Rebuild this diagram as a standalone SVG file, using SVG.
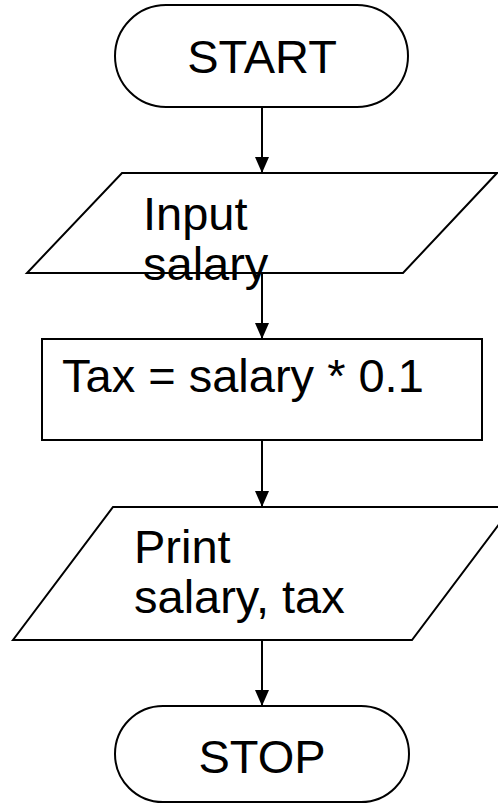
<svg xmlns="http://www.w3.org/2000/svg" width="498" height="804" viewBox="0 0 498 804">
<style>
.s{fill:#fff;stroke:#000;stroke-width:2}
.t{font-family:"Liberation Sans",Arial,sans-serif;font-size:47px;fill:#000}
.c{fill:none;stroke:#000;stroke-width:2}
</style>
<defs>
<marker id="a" markerWidth="16" markerHeight="14" viewBox="0 0 16 14" refX="16" refY="7" orient="auto" markerUnits="userSpaceOnUse">
<path d="M0,0 L16,7 L0,14 z" fill="#000"/>
</marker>
</defs>
<rect width="498" height="804" fill="#fff"/>
<g id="start">
<rect class="s" x="115" y="5" width="293" height="102" rx="51" ry="51"/>
<text class="t" x="262" y="73" text-anchor="middle">START</text>
</g>
<g id="input">
<polygon class="s" points="122,173 497,173 403,273 27,273"/>
<text class="t" x="143" y="230">Input</text>
<text class="t" x="143" y="280">salary</text>
</g>
<g id="calc">
<rect class="s" x="42" y="339" width="440" height="101"/>
<text class="t" x="62" y="392">Tax = salary * 0.1</text>
</g>
<g id="print">
<polygon class="s" points="113,507 512,507 412,640 13,640"/>
<text class="t" x="134" y="563">Print</text>
<text class="t" x="134" y="613">salary, tax</text>
</g>
<g id="stop">
<rect class="s" x="115" y="706" width="294" height="96" rx="48" ry="48"/>
<text class="t" x="262" y="773" text-anchor="middle">STOP</text>
</g>
<g id="connectors">
<line class="c" x1="262" y1="107" x2="262" y2="173" marker-end="url(#a)"/>
<line class="c" x1="262" y1="273" x2="262" y2="339" marker-end="url(#a)"/>
<line class="c" x1="262" y1="440" x2="262" y2="507" marker-end="url(#a)"/>
<line class="c" x1="262" y1="640" x2="262" y2="706" marker-end="url(#a)"/>
</g>
</svg>
